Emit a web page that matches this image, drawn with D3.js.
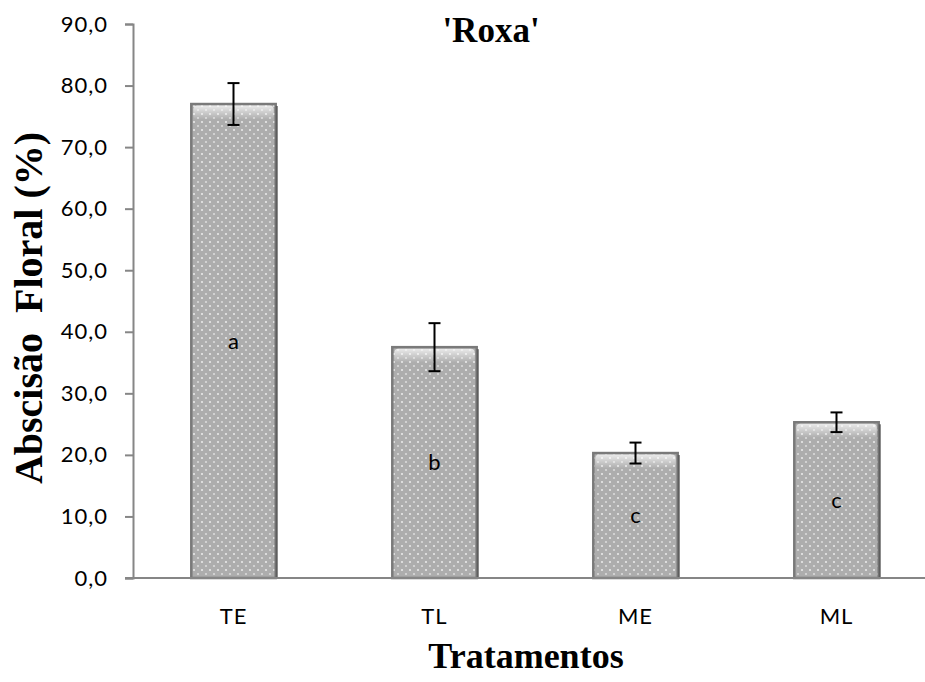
<!DOCTYPE html>
<html>
<head>
<meta charset="utf-8">
<script src="https://cdn.jsdelivr.net/npm/d3@7"></script>
<style>
  body { margin: 0; background: #fff; }
  svg { display: block; }
</style>
</head>
<body>
<svg width="925" height="682"></svg>
<script>
// values
const categories = ["TE", "TL", "ME", "ML"];
const means = [77.0, 37.5, 20.3, 25.3];
const errors = [3.4, 3.9, 1.7, 1.6];
const letters = ["a", "b", "c", "c"];
const yTicks = [0, 10, 20, 30, 40, 50, 60, 70, 80, 90];

const w = 925, h = 682;
const margin = { top: 24, left: 133, bottom: 104 };
const axisColor = "#868686";
const sans = "Lato, 'Open Sans', sans-serif";

const svg = d3.select("svg");

const xScale = d3.scaleBand()
  .domain(categories)
  .range([margin.left, 937])
  .paddingInner(0.58)
  .paddingOuter(0.29);

const yScale = d3.scaleLinear()
  .domain([0, 90])
  .range([h - margin.bottom, margin.top]);

// bar fill: grey with little white dots
const defs = svg.append("defs");
const pat = defs.append("pattern")
  .attr("id", "dots")
  .attr("patternUnits", "userSpaceOnUse")
  .attr("width", 8).attr("height", 8);
pat.append("rect").attr("width", 8).attr("height", 8).attr("fill", "#adadad");
pat.append("circle").attr("cx", 2).attr("cy", 2).attr("r", 1.1).attr("fill", "#e8e8e8");
pat.append("circle").attr("cx", 6).attr("cy", 6).attr("r", 1.1).attr("fill", "#dadada");

const shine = defs.append("linearGradient")
  .attr("id", "shine").attr("x1", 0).attr("y1", 0).attr("x2", 0).attr("y2", 1);
shine.append("stop").attr("offset", 0).attr("stop-color", "#fff").attr("stop-opacity", 0.75);
shine.append("stop").attr("offset", 1).attr("stop-color", "#fff").attr("stop-opacity", 0);

// y axis
const yAxis = d3.axisLeft(yScale)
  .tickValues(yTicks)
  .tickSize(8)
  .tickFormat(d => d3.format(".1f")(d).replace(".", ","));

const gy = svg.append("g")
  .attr("transform", `translate(${margin.left},0)`)
  .call(yAxis);
gy.select(".domain").attr("stroke", axisColor).attr("stroke-width", 2);
gy.selectAll(".tick line").attr("stroke", axisColor).attr("stroke-width", 2);
gy.selectAll(".tick text")
  .attr("x", -25)
  .attr("fill", "#000")
  .style("font-family", sans)
  .style("font-size", "22px")
  .style("letter-spacing", "1px");

// bars
const bars = svg.append("g").selectAll("g")
  .data(categories)
  .enter().append("g");

bars.append("rect")
  .attr("x", d => xScale(d))
  .attr("y", (d, i) => yScale(means[i]))
  .attr("width", xScale.bandwidth())
  .attr("height", (d, i) => yScale(0) - yScale(means[i]))
  .attr("fill", "url(#dots)")
  .attr("stroke", "#7a7a7a")
  .attr("stroke-width", 2.5);

bars.append("rect")
  .attr("x", d => xScale(d) + 2)
  .attr("y", (d, i) => yScale(means[i]) + 1.5)
  .attr("width", xScale.bandwidth() - 4)
  .attr("height", 14)
  .attr("rx", 4)
  .attr("fill", "url(#shine)");

bars.append("line")
  .attr("x1", d => xScale(d) + xScale.bandwidth() + 1)
  .attr("x2", d => xScale(d) + xScale.bandwidth() + 1)
  .attr("y1", (d, i) => yScale(means[i]) + 2)
  .attr("y2", yScale(0))
  .attr("stroke", "#5e5e5e")
  .attr("stroke-width", 2);

// x axis
svg.append("line")
  .attr("x1", margin.left - 8).attr("x2", w)
  .attr("y1", yScale(0)).attr("y2", yScale(0))
  .attr("stroke", axisColor).attr("stroke-width", 2);

// error bars
const cx = d => xScale(d) + xScale.bandwidth() / 2;
const err = svg.append("g").attr("stroke", "#000").attr("stroke-width", 2);
categories.forEach((c, i) => {
  const top = yScale(means[i] + errors[i]);
  const bot = yScale(means[i] - errors[i]);
  err.append("line").attr("x1", cx(c)).attr("x2", cx(c)).attr("y1", top).attr("y2", bot);
  err.append("line").attr("x1", cx(c) - 6).attr("x2", cx(c) + 6).attr("y1", top).attr("y2", top);
  err.append("line").attr("x1", cx(c) - 6).attr("x2", cx(c) + 6).attr("y1", bot).attr("y2", bot);
});

// significance letters
svg.append("g").selectAll("text")
  .data(categories)
  .enter().append("text")
  .attr("x", d => cx(d))
  .attr("y", (d, i) => (yScale(0) + yScale(means[i])) / 2)
  .attr("dy", "0.35em")
  .attr("text-anchor", "middle")
  .style("font-family", sans)
  .style("font-size", "22px")
  .text((d, i) => letters[i]);

// category labels
svg.append("g").selectAll("text")
  .data(categories)
  .enter().append("text")
  .attr("x", d => cx(d))
  .attr("y", 624)
  .attr("text-anchor", "middle")
  .style("font-family", sans)
  .style("font-size", "22px")
  .style("letter-spacing", "1px")
  .text(d => d);

// titles
const serif = "'Liberation Serif', 'Times New Roman', serif";
svg.append("text")
  .attr("x", 491).attr("y", 42)
  .attr("text-anchor", "middle")
  .style("font-family", serif).style("font-weight", "bold").style("font-size", "35px")
  .text("'Roxa'");

svg.append("text")
  .attr("x", 526).attr("y", 668)
  .attr("text-anchor", "middle")
  .style("font-family", serif).style("font-weight", "bold").style("font-size", "36px")
  .text("Tratamentos");

svg.append("text")
  .attr("transform", "translate(42,308) rotate(-90)")
  .attr("text-anchor", "middle")
  .style("font-family", serif).style("font-weight", "bold").style("font-size", "40px")
  .style("white-space", "pre")
  .text("Abscisão  Floral (%)");
</script>
</body>
</html>
